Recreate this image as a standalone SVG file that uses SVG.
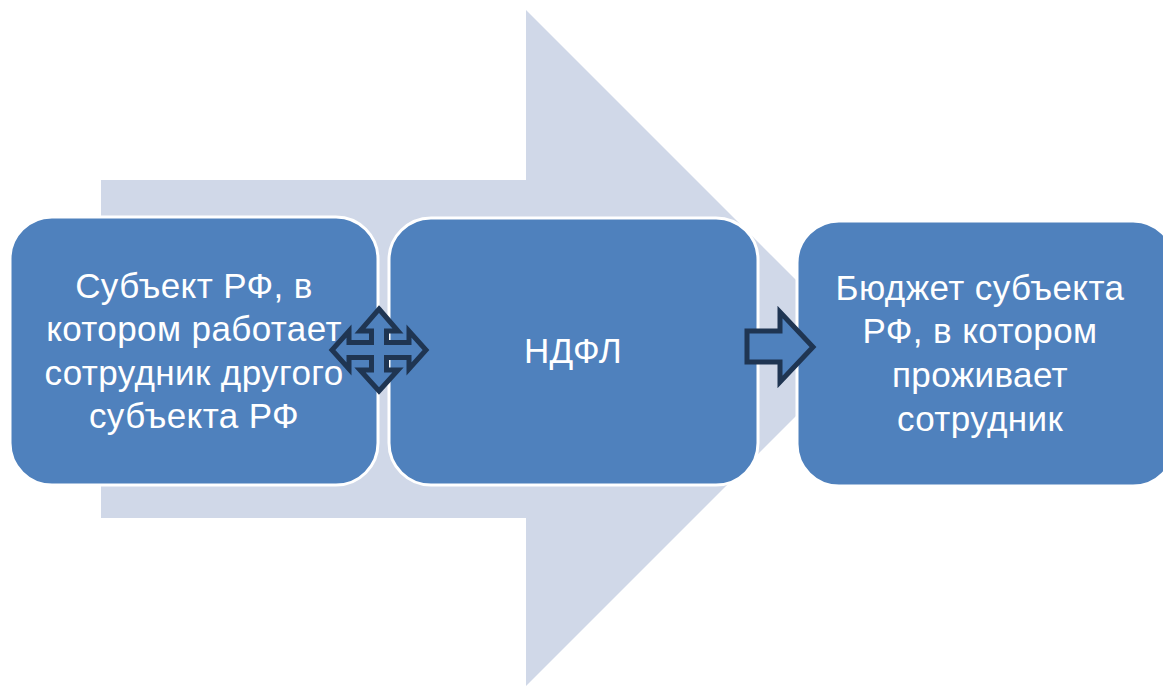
<svg xmlns="http://www.w3.org/2000/svg" width="1163" height="686" viewBox="0 0 1163 686">
<style>
.box{fill:#4F81BD;stroke:#FFFFFF;stroke-width:3}
.lbl{fill:#FFFFFF;font-family:"Liberation Sans","Open Sans",sans-serif;font-size:35px;letter-spacing:0.4px;text-anchor:middle}
.conn{fill:#4F81BD;stroke:#1F3552;stroke-width:5;stroke-linejoin:miter}
</style>
<rect width="1163" height="686" fill="#FFFFFF"/>
<g id="bigArrow">
<polygon points="101,180 526,180 526,10 864,348 526,686 526,518 101,518" fill="#D0D8E8"/>
</g>
<g id="node1">
<rect class="box" x="10" y="217" width="368" height="268" rx="42"/>
<text class="lbl"><tspan x="194" y="298">Субъект РФ, в</tspan><tspan x="194" y="341">котором работает</tspan><tspan x="194" y="385">сотрудник другого</tspan><tspan x="194" y="428">субъекта РФ</tspan></text>
</g>
<g id="node2">
<rect class="box" x="389" y="218" width="369" height="267" rx="42"/>
<text class="lbl" x="573" y="363">НДФЛ</text>
</g>
<g id="node3">
<rect class="box" x="797" y="221" width="378" height="265" rx="42"/>
<text class="lbl"><tspan x="980" y="300">Бюджет субъекта</tspan><tspan x="980" y="343">РФ, в котором</tspan><tspan x="980" y="387">проживает</tspan><tspan x="980" y="431">сотрудник</tspan></text>
</g>
<g id="connectors">
<path class="conn" d="M379,309 L398,331 L386.5,331 L386.5,342.5 L409,342.5 L409,331 L426,350 L409,369 L409,357.5 L386.5,357.5 L386.5,370 L398,370 L379,391 L360,370 L371.5,370 L371.5,357.5 L349,357.5 L349,369 L332,350 L349,331 L349,342.5 L371.5,342.5 L371.5,331 L360,331 Z"/>
<path class="conn" d="M747,331 L780,331 L780,312 L813,347 L780,382 L780,362 L747,362 Z"/>
</g>
</svg>
